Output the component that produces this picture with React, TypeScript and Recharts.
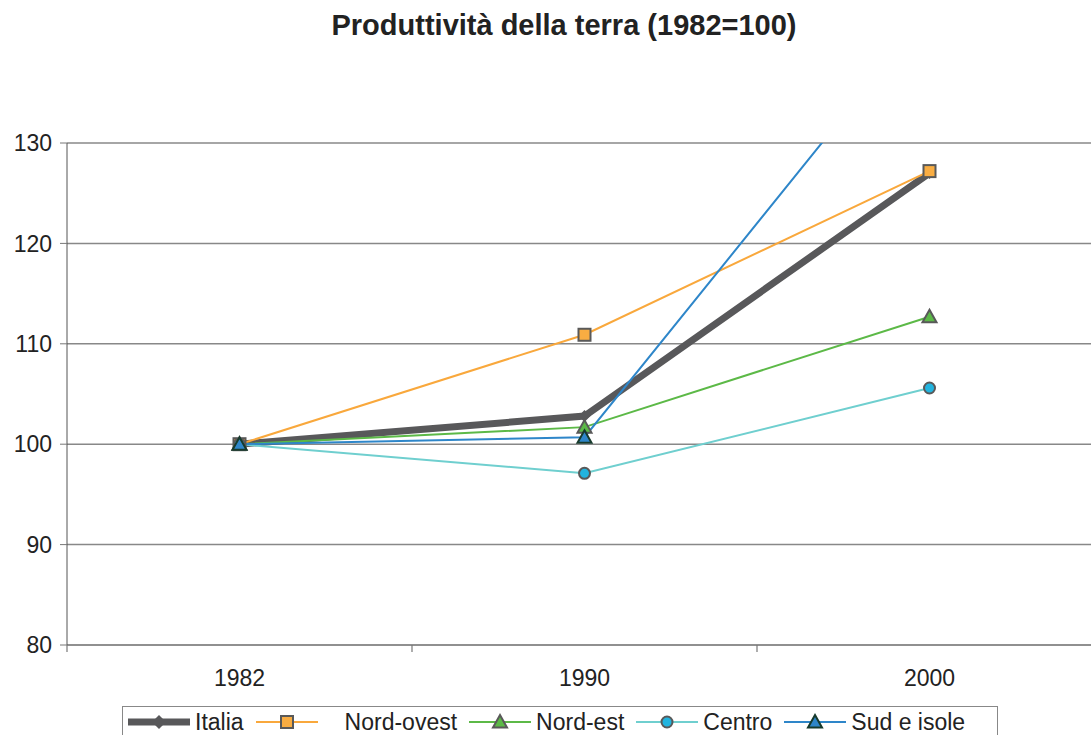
import { LineChart, Line, XAxis, YAxis, CartesianGrid } from 'recharts'

// Produttività della terra, indici 1982=100
const years = ['1982', '1990', '2000']
const italia = [100, 102.8, 127.0]
const nordOvest = [100, 110.9, 127.2]
const nordEst = [100, 101.7, 112.7]
const centro = [100, 97.1, 105.6]
const sudIsole = [100, 100.7, 143.3]
const yTicks = [80, 90, 100, 110, 120, 130]

const FONT = '"Liberation Sans", Arial, sans-serif'
const EDGE = '#595959'

const data = years.map((year, i) => ({
  x: i + 0.5,
  year,
  italia: italia[i],
  nordOvest: nordOvest[i],
  nordEst: nordEst[i],
  centro: centro[i],
  sudIsole: sudIsole[i],
}))

// half steps carry the labels, whole steps the tick marks between categories
const xTicks = Array.from({ length: years.length * 2 + 1 }, (_, i) => i / 2)

type Shape = 'diamond' | 'square' | 'triangle' | 'circle'

function Marker({ shape, cx, cy, fill, stroke, big }: { shape: Shape; cx: number; cy: number; fill: string; stroke: string; big?: boolean }) {
  if (shape === 'diamond') {
    const r = big ? 7 : 6
    return <path d={`M${cx},${cy - r}L${cx + r},${cy}L${cx},${cy + r}L${cx - r},${cy}Z`} fill={fill} />
  }
  if (shape === 'square') {
    return <rect x={cx - 6} y={cy - 6} width={12} height={12} fill={fill} stroke={stroke} strokeWidth={2} />
  }
  if (shape === 'triangle') {
    return <path d={`M${cx},${cy - 7}L${cx + 7},${cy + 5.5}L${cx - 7},${cy + 5.5}Z`} fill={fill} stroke={stroke} strokeWidth={2} strokeLinejoin="miter" />
  }
  return <circle cx={cx} cy={cy} r={5.5} fill={fill} stroke={stroke} strokeWidth={2} />
}

const series = [
  { key: 'italia', name: 'Italia', color: '#58585a', width: 7, shape: 'diamond' as Shape, fill: '#58585a', edge: '#58585a' },
  { key: 'nordOvest', name: 'Nord-ovest', color: '#f9a83c', width: 2, shape: 'square' as Shape, fill: '#f9ad42', edge: EDGE },
  { key: 'nordEst', name: 'Nord-est', color: '#5cb947', width: 2, shape: 'triangle' as Shape, fill: '#5cb947', edge: EDGE },
  { key: 'centro', name: 'Centro', color: '#6fcfcf', width: 2, shape: 'circle' as Shape, fill: '#22b4df', edge: EDGE },
  { key: 'sudIsole', name: 'Sud e isole', color: '#2e86c9', width: 2, shape: 'triangle' as Shape, fill: '#2e86c9', edge: '#173a2c' },
]

function XTick(props: any) {
  const { x, y, payload } = props
  const v = payload.value as number
  if (Number.isInteger(v)) {
    return <line x1={x} y1={y} x2={x} y2={y + 7} stroke="#777" strokeWidth={1.2} />
  }
  return (
    <text x={x} y={y + 33} textAnchor="middle" dominantBaseline="central" fontSize={23} fill="#222" fontFamily={FONT}>
      {years[Math.floor(v)]}
    </text>
  )
}

function LegendBox() {
  return (
    <div
      style={{
        position: 'absolute',
        left: 122,
        top: 706,
        width: 876,
        height: 40,
        border: '1.5px solid #888',
        display: 'flex',
        alignItems: 'flex-start',
        paddingTop: 2,
        boxSizing: 'border-box',
        fontFamily: FONT,
        fontSize: 23,
        color: '#222',
      }}
    >
      {series.map((s, i) => (
        <div key={s.key} style={{ display: 'flex', alignItems: 'center', marginLeft: i === 0 ? 5 : 12 }}>
          <svg width={62} height={26}>
            <line x1={0} y1={13} x2={62} y2={13} stroke={s.color} strokeWidth={s.width} />
            <Marker shape={s.shape} cx={31} cy={13} fill={s.fill} stroke={s.edge} big />
          </svg>
          <span style={{ marginLeft: s.key === 'nordOvest' ? 27 : 5, lineHeight: '26px' }}>{s.name}</span>
        </div>
      ))}
    </div>
  )
}

export default function App() {
  return (
    <div
      style={{
        position: 'fixed',
        left: 0,
        top: 0,
        width: 1091,
        height: 735,
        overflow: 'hidden',
        background: '#fff',
        fontFamily: FONT,
      }}
    >
      <div
        style={{
          position: 'absolute',
          top: 9,
          left: 0,
          width: 1128,
          textAlign: 'center',
          fontWeight: 'bold',
          fontSize: 29,
          color: '#222',
        }}
      >
        Produttività della terra (1982=100)
      </div>
      <LineChart width={1110} height={735} data={data} margin={{ top: 143, right: 8, left: 0, bottom: 0 }}>
        <CartesianGrid vertical={false} stroke="#888" strokeWidth={1.5} />
        <XAxis
          dataKey="x"
          type="number"
          domain={[0, years.length]}
          ticks={xTicks}
          interval={0}
          height={90}
          tickSize={0}
          tickMargin={0}
          tickLine={false}
          tick={<XTick />}
          axisLine={{ stroke: '#888', strokeWidth: 1.5 }}
        />
        <YAxis
          domain={[80, 130]}
          ticks={yTicks}
          allowDataOverflow
          width={67}
          tickSize={7}
          tickMargin={8}
          tick={{ fontSize: 23, fill: '#222', fontFamily: FONT }}
          tickLine={{ stroke: '#777' }}
          axisLine={{ stroke: '#555' }}
        />
        {series.map((s) => (
          <Line
            key={s.key}
            dataKey={s.key}
            name={s.name}
            type="linear"
            stroke={s.color}
            strokeWidth={s.width}
            isAnimationActive={false}
            dot={(p: any) => (
              <g key={`${s.key}-${p.index}`}>
                <Marker shape={s.shape} cx={p.cx} cy={p.cy} fill={s.fill} stroke={s.edge} />
              </g>
            )}
            activeDot={false}
          />
        ))}
      </LineChart>
      <LegendBox />
    </div>
  )
}
